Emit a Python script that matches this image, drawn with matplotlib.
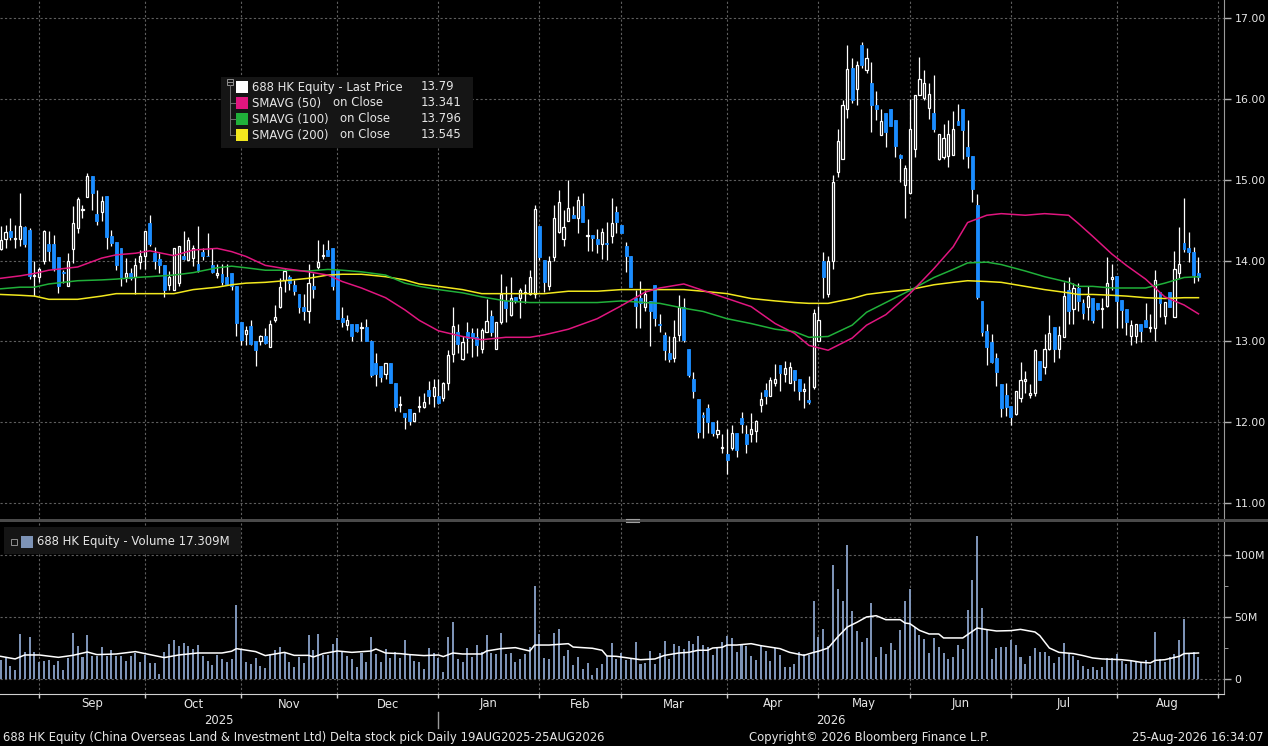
import numpy as np
import matplotlib
matplotlib.use("Agg")
import matplotlib.pyplot as plt
from matplotlib import font_manager
from matplotlib.patches import Rectangle
from matplotlib.lines import Line2D
from matplotlib.transforms import blended_transform_factory

installed = {f.name for f in font_manager.fontManager.ttflist}
if "Liberation Sans Narrow" in installed:
    FONT, FS = "Liberation Sans Narrow", 10.0
else:
    FONT, FS = "DejaVu Sans", 8.4
plt.rcParams["font.family"] = [FONT, "DejaVu Sans"]

# ---- data: 688 HK daily, 20 Aug 2025 .. 25 Aug 2026 ----
OPEN = [14.14, 14.27, 14.36, 14.26, 14.26, 14.42, 14.38, 13.81, 13.79, 14.00,
        14.21, 14.20, 14.04, 13.86, 13.69, 14.14, 14.40, 14.63, 14.79, 15.04,
        14.58, 14.60, 14.80, 14.30, 14.23, 14.16, 13.79, 13.84, 13.79, 13.98,
        14.05, 14.46, 14.09, 14.02, 13.95, 13.70, 13.64, 13.72, 14.05, 14.01,
        14.03, 13.96, 14.10, 14.06, 13.95, 13.82, 13.83, 13.79, 13.84, 13.69,
        13.24, 13.09, 13.19, 13.01, 13.00, 13.07, 12.93, 13.27, 13.43, 13.76,
        13.79, 13.70, 13.59, 13.42, 13.38, 13.69, 13.92, 14.06, 14.13, 14.15,
        13.88, 13.29, 13.20, 13.21, 13.21, 13.17, 13.18, 13.00, 12.73, 12.70,
        12.59, 12.73, 12.48, 12.21, 12.11, 12.16, 12.02, 12.19, 12.19, 12.40,
        12.32, 12.32, 12.30, 12.49, 12.84, 13.11, 12.78, 13.11, 13.10, 13.05,
        12.91, 13.12, 13.31, 12.90, 13.24, 13.50, 13.33, 13.55, 13.54, 13.60,
        13.59, 13.59, 14.43, 14.01, 13.68, 14.04, 14.35, 14.27, 14.49, 14.56,
        14.52, 14.67, 14.30, 14.32, 14.27, 14.21, 14.22, 14.30, 14.60, 14.44,
        14.18, 14.06, 13.54, 13.54, 13.42, 13.50, 13.70, 13.22, 13.08, 12.85,
        12.79, 13.08, 13.43, 12.90, 12.54, 12.29, 12.09, 12.18, 12.00, 11.85,
        11.68, 11.61, 11.68, 11.86, 12.05, 11.85, 11.85, 11.89, 12.21, 12.40,
        12.32, 12.49, 12.71, 12.59, 12.49, 12.64, 12.53, 12.38, 12.27, 12.43,
        13.00, 13.99, 13.59, 13.99, 15.09, 15.26, 15.87, 16.38, 16.12, 16.67,
        16.36, 16.20, 15.92, 15.55, 15.83, 15.87, 15.74, 15.31, 14.94, 14.83,
        15.38, 16.05, 16.01, 15.89, 15.82, 15.26, 15.28, 15.29, 15.31, 15.72,
        15.87, 15.41, 15.29, 14.69, 13.50, 13.13, 12.99, 12.79, 12.47, 12.34,
        12.20, 12.10, 12.30, 12.51, 12.33, 12.36, 12.76, 12.68, 12.90, 13.18,
        12.91, 13.05, 13.63, 13.40, 13.66, 13.48, 13.42, 13.54, 13.48, 13.40,
        13.44, 13.77, 13.81, 13.51, 13.40, 13.06, 13.06, 13.21, 13.27, 13.17,
        13.16, 13.61, 13.31, 13.61, 13.30, 13.84, 14.22, 14.16, 14.11, 13.84]
HIGH = [14.43, 14.44, 14.52, 14.44, 14.84, 14.43, 14.40, 14.00, 13.92, 14.38,
        14.36, 14.32, 14.04, 13.88, 14.09, 14.67, 14.78, 14.69, 15.08, 15.04,
        14.87, 14.80, 14.80, 14.38, 14.23, 14.16, 14.03, 13.91, 14.03, 14.13,
        14.36, 14.56, 14.17, 14.09, 13.95, 13.87, 14.16, 14.18, 14.37, 14.29,
        14.19, 14.43, 14.16, 14.34, 14.16, 13.96, 13.96, 13.96, 13.84, 13.69,
        13.24, 13.19, 13.26, 13.01, 13.08, 13.17, 13.26, 13.45, 13.78, 13.89,
        13.82, 13.76, 13.59, 13.59, 13.96, 13.84, 14.25, 14.21, 14.25, 14.15,
        13.88, 13.42, 13.32, 13.21, 13.21, 13.24, 13.28, 13.02, 12.85, 12.70,
        12.73, 12.73, 12.48, 12.32, 12.11, 12.16, 12.11, 12.32, 12.36, 12.51,
        12.54, 12.54, 12.50, 12.89, 13.43, 13.22, 13.06, 13.24, 13.16, 13.16,
        13.16, 13.52, 13.39, 13.24, 13.83, 13.68, 13.80, 13.55, 13.66, 13.71,
        13.88, 14.69, 14.43, 14.01, 14.05, 14.69, 14.87, 14.63, 15.00, 14.67,
        14.80, 14.84, 14.51, 14.32, 14.39, 14.40, 14.48, 14.77, 14.68, 14.44,
        14.23, 14.06, 13.64, 13.75, 13.64, 13.50, 13.70, 13.34, 13.12, 13.07,
        13.26, 13.57, 13.53, 12.90, 12.62, 12.29, 12.13, 12.22, 12.00, 12.03,
        11.85, 11.91, 11.96, 11.86, 12.12, 11.97, 12.11, 12.03, 12.37, 12.48,
        12.56, 12.72, 12.71, 12.76, 12.75, 12.64, 12.53, 12.48, 12.57, 13.40,
        13.44, 14.11, 14.05, 15.06, 15.63, 15.98, 16.67, 16.50, 16.47, 16.70,
        16.63, 16.46, 16.10, 15.88, 15.83, 15.87, 15.74, 15.32, 15.18, 16.00,
        16.05, 16.52, 16.36, 16.19, 16.29, 15.57, 15.69, 15.74, 15.85, 15.94,
        15.87, 15.74, 15.29, 14.82, 13.50, 13.21, 13.09, 12.86, 12.47, 12.48,
        12.20, 12.39, 12.74, 12.63, 12.47, 12.90, 12.76, 13.09, 13.33, 13.18,
        13.19, 13.73, 13.79, 13.72, 13.72, 13.52, 13.68, 13.54, 13.48, 13.53,
        14.04, 13.96, 13.81, 13.51, 13.40, 13.27, 13.21, 13.21, 13.48, 13.34,
        13.88, 13.61, 13.49, 13.61, 14.12, 14.41, 14.77, 14.35, 14.17, 14.04]
LOW = [14.13, 14.16, 14.25, 14.15, 14.18, 14.17, 13.77, 13.56, 13.74, 13.96,
       14.00, 13.87, 13.60, 13.72, 13.69, 13.97, 14.34, 14.52, 14.78, 14.62,
       14.44, 14.49, 14.14, 14.18, 13.88, 13.69, 13.74, 13.76, 13.58, 13.89,
       13.89, 14.18, 13.89, 13.84, 13.55, 13.63, 13.64, 13.68, 14.01, 14.01,
       13.93, 13.86, 14.01, 14.05, 13.84, 13.78, 13.70, 13.70, 13.64, 13.06,
       12.96, 12.96, 12.95, 12.70, 12.96, 12.97, 12.93, 13.24, 13.41, 13.61,
       13.63, 13.57, 13.35, 13.26, 13.23, 13.54, 13.90, 14.02, 14.05, 13.64,
       13.28, 13.18, 13.14, 13.01, 13.12, 13.01, 13.00, 12.56, 12.45, 12.50,
       12.54, 12.49, 12.14, 12.12, 11.91, 11.97, 12.01, 12.13, 12.18, 12.23,
       12.19, 12.23, 12.26, 12.40, 12.75, 12.86, 12.77, 12.86, 12.81, 12.82,
       12.85, 13.12, 13.06, 12.90, 13.22, 13.24, 13.31, 13.47, 13.29, 13.48,
       13.57, 13.54, 14.01, 13.61, 13.64, 14.00, 14.34, 14.18, 14.49, 14.52,
       14.34, 14.48, 14.12, 14.12, 14.09, 14.02, 14.01, 14.22, 14.34, 14.34,
       13.86, 13.67, 13.16, 13.16, 13.38, 12.94, 13.19, 13.11, 12.77, 12.75,
       12.75, 13.00, 12.99, 12.56, 12.30, 11.81, 11.81, 11.87, 11.83, 11.80,
       11.62, 11.36, 11.66, 11.57, 11.86, 11.62, 11.76, 11.75, 12.13, 12.22,
       12.32, 12.45, 12.39, 12.50, 12.48, 12.39, 12.27, 12.17, 12.23, 12.41,
       13.00, 13.53, 13.55, 13.90, 15.03, 15.26, 15.76, 15.95, 15.92, 16.38,
       16.32, 15.59, 15.74, 15.55, 15.41, 15.66, 15.28, 14.97, 14.53, 14.83,
       15.28, 16.05, 15.99, 15.75, 15.59, 15.24, 15.26, 15.16, 15.31, 15.68,
       15.26, 15.15, 14.72, 13.52, 13.06, 12.71, 12.73, 12.45, 12.07, 12.08,
       11.97, 12.09, 12.25, 12.36, 12.30, 12.32, 12.52, 12.60, 12.89, 12.75,
       12.80, 13.05, 13.21, 13.21, 13.38, 13.28, 13.26, 13.23, 13.39, 13.17,
       13.43, 13.63, 13.17, 13.16, 13.08, 12.95, 12.98, 12.99, 13.18, 13.12,
       13.01, 13.30, 13.22, 13.42, 13.30, 13.78, 14.11, 13.98, 13.72, 13.75]
CLOSE = [14.25, 14.35, 14.29, 14.28, 14.43, 14.20, 13.81, 13.82, 13.90, 14.36,
         14.12, 13.91, 13.69, 13.84, 14.00, 14.46, 14.76, 14.64, 15.04, 14.84,
         14.49, 14.74, 14.29, 14.22, 13.95, 13.79, 13.85, 13.78, 13.95, 14.05,
         14.36, 14.21, 14.00, 13.94, 13.63, 13.80, 14.16, 14.18, 14.02, 14.25,
         14.15, 13.88, 14.05, 14.05, 13.86, 13.85, 13.73, 13.71, 13.68, 13.23,
         13.02, 13.14, 12.97, 12.89, 13.07, 12.98, 13.22, 13.30, 13.67, 13.87,
         13.72, 13.62, 13.42, 13.38, 13.72, 13.65, 13.98, 14.07, 14.05, 13.68,
         13.28, 13.24, 13.26, 13.07, 13.13, 13.18, 13.00, 12.58, 12.60, 12.56,
         12.73, 12.49, 12.19, 12.22, 12.06, 12.02, 12.11, 12.20, 12.25, 12.32,
         12.44, 12.24, 12.48, 12.83, 13.19, 12.97, 12.99, 13.04, 13.05, 12.95,
         13.14, 13.25, 13.11, 13.24, 13.59, 13.41, 13.53, 13.50, 13.64, 13.61,
         13.79, 14.64, 14.04, 13.73, 14.00, 14.52, 14.73, 14.41, 14.65, 14.52,
         14.75, 14.48, 14.31, 14.28, 14.21, 14.35, 14.20, 14.47, 14.48, 14.34,
         14.05, 13.67, 13.44, 13.48, 13.59, 13.37, 13.29, 13.20, 12.89, 12.78,
         13.05, 13.43, 13.02, 12.58, 12.38, 11.88, 12.06, 12.00, 11.87, 11.90,
         11.69, 11.53, 11.86, 11.66, 11.98, 11.73, 11.92, 12.01, 12.29, 12.32,
         12.52, 12.53, 12.61, 12.67, 12.68, 12.52, 12.38, 12.41, 12.25, 13.35,
         13.27, 13.79, 13.99, 14.97, 15.48, 15.92, 16.37, 15.99, 16.42, 16.42,
         16.51, 15.92, 15.88, 15.73, 15.59, 15.66, 15.42, 15.27, 15.14, 15.63,
         16.05, 16.25, 16.20, 16.06, 15.63, 15.57, 15.52, 15.57, 15.63, 15.68,
         15.62, 15.29, 14.89, 13.55, 13.12, 12.93, 12.75, 12.62, 12.17, 12.19,
         12.06, 12.39, 12.52, 12.53, 12.36, 12.89, 12.52, 12.90, 13.10, 12.91,
         13.08, 13.56, 13.37, 13.66, 13.50, 13.35, 13.56, 13.27, 13.40, 13.41,
         13.72, 13.79, 13.50, 13.39, 13.24, 13.20, 13.21, 13.13, 13.18, 13.18,
         13.76, 13.48, 13.49, 13.42, 13.89, 13.96, 14.14, 14.10, 13.82, 13.79]
VOLUME = [15.5, 16.9, 10.7, 7.5, 36.5, 21.7, 34.0, 21.4, 13.4, 14.7,
          15.5, 11.5, 14.7, 7.5, 16.9, 37.3, 26.8, 17.4, 35.7, 18.2,
          18.2, 26.0, 18.2, 23.6, 18.2, 18.2, 14.7, 18.2, 20.6, 13.4,
          19.6, 12.6, 13.1, 4.3, 22.0, 28.4, 31.6, 26.8, 29.0, 26.8,
          24.4, 27.6, 18.8, 14.7, 11.5, 19.0, 16.4, 13.9, 16.4, 59.8,
          23.1, 13.9, 12.3, 17.2, 10.7, 9.1, 20.4, 23.6, 26.0, 20.9,
          13.4, 9.9, 18.0, 13.1, 35.7, 23.6, 36.5, 19.0, 19.0, 28.4,
          33.2, 22.8, 18.8, 16.4, 9.9, 21.2, 13.9, 34.0, 20.4, 13.9,
          24.4, 17.2, 22.0, 17.2, 31.6, 19.6, 14.7, 13.9, 8.3, 25.2,
          21.2, 17.2, 5.9, 34.0, 46.1, 16.4, 13.9, 25.2, 18.0, 27.6,
          22.0, 35.7, 21.2, 20.4, 37.3, 20.4, 21.2, 13.9, 16.4, 20.4,
          26.0, 75.1, 36.5, 17.2, 16.4, 37.3, 40.5, 18.8, 23.6, 11.5,
          18.0, 8.3, 13.1, 3.5, 9.1, 12.3, 18.8, 29.2, 16.4, 21.2,
          15.5, 17.2, 30.0, 12.3, 13.1, 22.8, 12.3, 21.2, 30.8, 16.4,
          28.4, 26.8, 24.4, 30.8, 28.4, 34.9, 27.6, 26.0, 19.6, 25.2,
          30.0, 34.9, 33.2, 22.0, 28.4, 26.8, 18.8, 15.5, 27.6, 22.8,
          14.7, 25.2, 19.6, 9.9, 9.9, 12.3, 22.0, 20.4, 19.6, 63.0,
          34.0, 40.5, 26.8, 91.9, 72.6, 63.0, 108.0, 54.9, 38.9, 30.0,
          33.2, 61.4, 18.0, 26.0, 20.4, 29.2, 23.6, 39.7, 63.0, 72.6,
          42.1, 35.7, 32.4, 21.2, 33.2, 26.0, 21.2, 16.4, 18.0, 27.6,
          24.4, 55.8, 79.9, 115.3, 57.4, 39.7, 16.4, 25.2, 26.0, 26.0,
          31.6, 27.6, 18.0, 12.3, 18.8, 25.2, 22.0, 22.0, 18.8, 13.1,
          18.0, 29.2, 20.4, 18.8, 15.5, 10.7, 8.3, 9.9, 7.5, 9.9,
          17.2, 17.2, 20.4, 14.7, 12.3, 14.7, 13.9, 13.1, 15.5, 11.5,
          38.1, 16.4, 13.9, 18.0, 20.4, 31.6, 48.5, 20.4, 22.0, 17.3]

# moving averages (day index -> value)
MA_DAY = [0, 4, 7, 10, 16, 21, 24, 28, 31, 36, 40, 45, 48, 51, 55, 59, 64, 68, 71, 75,
          80, 84, 87, 91, 96, 100, 105, 110, 113, 118, 124, 129, 134, 137, 142, 146, 151, 156, 161, 165,
          168, 172, 177, 180, 184, 189, 194, 198, 201, 205, 208, 213, 217, 222, 224, 227, 231, 234, 238, 242,
          246, 249]
SMA50 = [13.78, 13.81, 13.84, 13.88, 13.92, 14.03, 14.07, 14.09, 14.12, 14.06,
         14.13, 14.15, 14.11, 14.05, 13.94, 13.90, 13.86, 13.82, 13.74, 13.66,
         13.54, 13.39, 13.26, 13.13, 13.06, 13.02, 13.05, 13.05, 13.08, 13.15,
         13.28, 13.44, 13.61, 13.66, 13.71, 13.63, 13.53, 13.43, 13.22, 13.10,
         12.95, 12.89, 13.04, 13.20, 13.33, 13.59, 13.90, 14.17, 14.47, 14.56,
         14.58, 14.56, 14.58, 14.56, 14.46, 14.30, 14.08, 13.94, 13.77, 13.55,
         13.45, 13.34]
SMA100 = [13.65, 13.67, 13.67, 13.71, 13.75, 13.76, 13.77, 13.79, 13.80, 13.82,
          13.85, 13.91, 13.93, 13.91, 13.88, 13.88, 13.87, 13.89, 13.88, 13.86,
          13.82, 13.72, 13.68, 13.64, 13.60, 13.55, 13.50, 13.48, 13.48, 13.48,
          13.48, 13.50, 13.48, 13.47, 13.41, 13.37, 13.28, 13.22, 13.15, 13.12,
          13.05, 13.06, 13.20, 13.36, 13.48, 13.63, 13.79, 13.89, 13.97, 13.98,
          13.95, 13.87, 13.80, 13.73, 13.68, 13.68, 13.66, 13.66, 13.66, 13.72,
          13.79, 13.80]
SMA200 = [13.58, 13.57, 13.56, 13.52, 13.52, 13.56, 13.59, 13.59, 13.59, 13.59,
          13.64, 13.67, 13.70, 13.72, 13.73, 13.75, 13.78, 13.82, 13.83, 13.83,
          13.80, 13.76, 13.71, 13.68, 13.64, 13.59, 13.59, 13.59, 13.59, 13.62,
          13.62, 13.64, 13.64, 13.64, 13.64, 13.62, 13.59, 13.53, 13.50, 13.48,
          13.47, 13.47, 13.53, 13.58, 13.61, 13.64, 13.70, 13.73, 13.75, 13.74,
          13.73, 13.68, 13.64, 13.60, 13.58, 13.58, 13.57, 13.56, 13.54, 13.53,
          13.54, 13.54]
VOL_MA_DAY = [0, 3, 5, 8, 12, 15, 18, 20, 24, 28, 30, 34, 37, 41, 46, 48, 49, 53, 55, 59,
              61, 64, 65, 67, 70, 73, 77, 78, 80, 83, 85, 88, 91, 92, 94, 96, 100, 101, 104, 107,
              110, 111, 114, 118, 119, 123, 125, 126, 128, 133, 136, 138, 141, 143, 145, 147, 148, 150, 151, 153,
              156, 158, 162, 164, 167, 169, 170, 172, 174, 176, 178, 180, 182, 184, 187, 188, 189, 191, 193, 195,
              196, 200, 203, 205, 207, 210, 212, 215, 216, 218, 220, 223, 225, 227, 229, 233, 235, 237, 239, 240,
              242, 245, 246, 249]
VOL_MA = [18.2, 16.1, 19.3, 19.3, 17.4, 19.0, 21.7, 19.6, 20.1, 22.0,
          20.4, 17.2, 19.3, 20.9, 20.9, 22.3, 24.4, 22.0, 18.8, 21.4,
          19.0, 19.0, 17.7, 20.4, 22.5, 21.4, 22.5, 24.1, 20.9, 20.4,
          19.6, 18.8, 19.3, 18.0, 20.9, 20.1, 20.1, 22.5, 24.4, 25.2,
          22.5, 27.3, 27.3, 28.4, 25.7, 24.7, 23.1, 18.5, 18.2, 15.5,
          16.1, 19.0, 20.9, 21.4, 23.1, 23.1, 24.9, 25.5, 27.3, 27.3,
          28.4, 26.8, 24.4, 21.4, 19.0, 21.4, 22.3, 24.9, 33.8, 41.8,
          45.6, 49.9, 50.9, 47.7, 47.7, 45.0, 44.5, 39.1, 36.2, 36.2,
          33.0, 33.0, 41.0, 39.7, 38.6, 38.9, 39.9, 37.8, 34.9, 24.9,
          21.4, 20.4, 18.8, 16.9, 16.1, 15.5, 14.7, 13.4, 12.9, 15.0,
          15.5, 18.2, 20.4, 20.9]

MONTHS = ["Sep", "Oct", "Nov", "Dec", "Jan", "Feb", "Mar", "Apr", "May", "Jun", "Jul", "Aug"]
MONTH_START = [8, 30, 50, 70, 91, 112, 129, 151, 170, 189, 210, 232, 253]
YEARS = ["2025", "2026"]
YEAR_START = 91
PRICE_TICKS = [11, 12, 13, 14, 15, 16, 17]
VOL_TICKS = [0, 50, 100]

BLUE = "#1a8cff"
VOLC = "#7d93b6"
MAG = "#e0167f"
GRN = "#20b03a"
YEL = "#f2e81e"
GRID = "#5e5e5e"
TXT = "#e6e6e6"

W, H = 1268, 746
fig = plt.figure(figsize=(W / 100, H / 100), dpi=100, facecolor="black")


def box(x0, y0, x1, y1):
    # pixel box, top-left origin -> figure rect
    return [x0 / W, 1 - y1 / H, (x1 - x0) / W, (y1 - y0) / H]


def px(x, y):
    return x / W, 1 - y / H


ax = fig.add_axes(box(0, 0, 1223.5, 519))
axv = fig.add_axes(box(0, 522, 1223.5, 693.5))
XL = (-0.15, 254.2)

days = np.arange(len(CLOSE))
o, h, l, c = (np.array(a) for a in (OPEN, HIGH, LOW, CLOSE))
up = c >= o
bottom = np.minimum(o, c)
height = np.abs(c - o)

for a in (ax, axv):
    a.set_facecolor("black")
    a.set_xlim(*XL)
    a.set_xticks(MONTH_START)
    a.grid(True, color=GRID, ls=(0, (2, 2)), lw=0.8, zorder=0)
    a.set_axisbelow(True)
    for s in ("left", "top"):
        a.spines[s].set_visible(False)
    a.spines["right"].set_color("#9a9a9a")
    a.yaxis.tick_right()
    a.tick_params(axis="y", colors="#b0b0b0", labelcolor=TXT, labelsize=FS - 0.5,
                  length=5, width=1, pad=3, direction="out")

# price panel
ax.vlines(days, l, h, color="white", lw=0.9, zorder=3)
ax.bar(days[up], height[up], bottom=bottom[up], width=0.45, facecolor="black",
       edgecolor="white", lw=0.9, zorder=4)
ax.bar(days[~up], height[~up], bottom=bottom[~up], width=0.6, color=BLUE,
       edgecolor=BLUE, lw=0.6, zorder=4)
ax.plot(MA_DAY, SMA200, color=YEL, lw=1.1, zorder=5)
ax.plot(MA_DAY, SMA100, color=GRN, lw=1.1, zorder=5)
ax.plot(MA_DAY, SMA50, color=MAG, lw=1.1, zorder=5)
ax.set_ylim(10.802, 17.223)
ax.set_yticks(PRICE_TICKS)
ax.set_yticklabels(["%.2f" % v for v in PRICE_TICKS])
ax.spines["bottom"].set_visible(False)
ax.tick_params(axis="x", length=0, labelbottom=False)

# volume panel
axv.bar(days, VOLUME, width=0.42, color=VOLC, zorder=3)
axv.plot(VOL_MA_DAY, VOL_MA, color="white", lw=1.1, zorder=4)
axv.set_ylim(-11.7, 126.3)
axv.set_yticks(VOL_TICKS)
axv.set_yticklabels(["0", "50M", "100M"])
axv.set_yticks([25, 75], minor=True)
axv.tick_params(axis="y", which="minor", length=3, colors="#b0b0b0")
axv.spines["bottom"].set_color("#d0d0d0")
axv.tick_params(axis="x", colors="#d0d0d0", length=3, width=1, labelbottom=False, direction="out")

# month and year labels under the volume panel
tr = blended_transform_factory(axv.transData, fig.transFigure)
for name, a, b in zip(MONTHS, MONTH_START[:-1], MONTH_START[1:]):
    fig.text((a + b) / 2, px(0, 704)[1], name, transform=tr, ha="center", va="center",
             color=TXT, fontsize=FS)
fig.text((XL[0] + YEAR_START) / 2, px(0, 720)[1], YEARS[0], transform=tr, ha="center",
         va="center", color=TXT, fontsize=FS)
fig.text((YEAR_START + XL[1]) / 2, px(0, 720)[1], YEARS[1], transform=tr, ha="center",
         va="center", color=TXT, fontsize=FS)
fig.add_artist(Line2D([YEAR_START, YEAR_START], [px(0, 712)[1], px(0, 728)[1]],
                      transform=tr, color="#9a9a9a", lw=1))

# panel separator
fig.add_artist(Rectangle(px(0, 522), 1, 3 / H, transform=fig.transFigure,
                         facecolor="#4a4a4a", edgecolor="none"))
for yy in (518.5, 521.5):
    fig.add_artist(Line2D([626 / W, 639 / W], [px(0, yy)[1]] * 2, color="#a0a0a0", lw=0.8))

# price legend box
fig.add_artist(Rectangle(px(221, 148), 252 / W, 71 / H, transform=fig.transFigure,
                         facecolor="#151515", edgecolor="none", zorder=6))
fig.add_artist(Rectangle(px(226.5, 85), 6 / W, 6 / H, transform=fig.transFigure,
                         facecolor="none", edgecolor="#909090", lw=0.7, zorder=7))
fig.add_artist(Line2D([228 / W, 231.5 / W], [px(0, 82)[1]] * 2, color="#909090", lw=0.7, zorder=7))
fig.add_artist(Line2D([229.5 / W] * 2, [px(0, 85)[1], px(0, 135)[1]], color="#707070", lw=0.7, zorder=7))
rows = [("688 HK Equity - Last Price", "", "13.79", "white"),
        ("SMAVG (50)", "on Close", "13.341", MAG),
        ("SMAVG (100)", "on Close", "13.796", GRN),
        ("SMAVG (200)", "on Close", "13.545", YEL)]
for k, (lab, mid, val, col) in enumerate(rows):
    yc = 87 + 16 * k
    if k > 0:
        fig.add_artist(Line2D([229.5 / W, 235 / W], [px(0, yc)[1]] * 2, color="#707070", lw=0.7, zorder=7))
    fig.add_artist(Rectangle(px(236, yc + 5.5), 11.5 / W, 11.5 / H, transform=fig.transFigure,
                             facecolor=col, edgecolor="none", zorder=7))
    fig.text(*px(252, yc), lab, color=TXT, fontsize=FS, va="center", zorder=8)
    if mid:
        fig.text(*px(333 if k == 1 else 340, yc), mid, color=TXT, fontsize=FS, va="center", zorder=8)
    fig.text(*px(421, yc), val, color=TXT, fontsize=FS, va="center", zorder=8)

# volume legend box
fig.add_artist(Rectangle(px(4, 554), 237 / W, 27 / H, transform=fig.transFigure,
                         facecolor="#151515", edgecolor="none", zorder=6))
fig.add_artist(Rectangle(px(11, 545), 6 / W, 6 / H, transform=fig.transFigure,
                         facecolor="none", edgecolor="#909090", lw=0.7, zorder=7))
fig.add_artist(Rectangle(px(21, 547.5), 12 / W, 12 / H, transform=fig.transFigure,
                         facecolor=VOLC, edgecolor="none", zorder=7))
fig.text(*px(37, 542), "688 HK Equity - Volume 17.309M", color=TXT, fontsize=FS,
         va="center", zorder=8)

# footer
fig.text(*px(3, 738), "688 HK Equity (China Overseas Land & Investment Ltd) Delta stock pick "
         "Daily 19AUG2025-25AUG2026", color=TXT, fontsize=FS, va="center")
fig.text(*px(749, 738), "Copyright\u00a9 2026 Bloomberg Finance L.P.", color=TXT,
         fontsize=FS, va="center")
fig.text(*px(1264, 738), "25-Aug-2026 16:34:07", color=TXT, fontsize=FS, va="center", ha="right")

fig.savefig("out.png", dpi=100, facecolor="black")
